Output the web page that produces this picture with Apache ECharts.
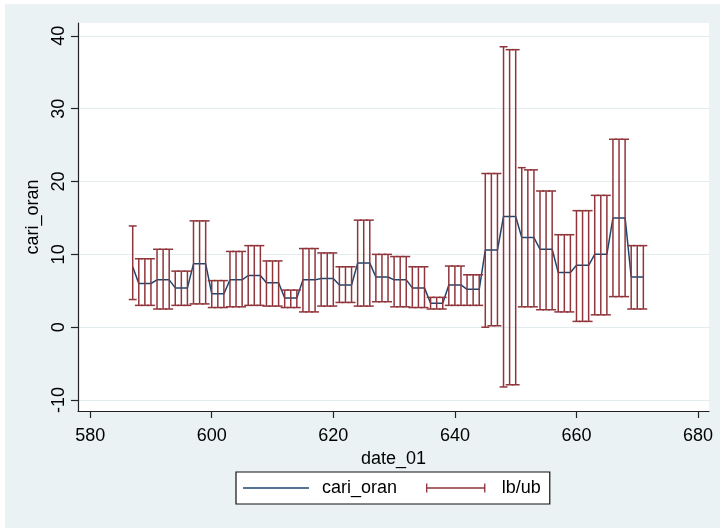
<!DOCTYPE html>
<html>
<head>
<meta charset="utf-8">
<script src="https://cdn.jsdelivr.net/npm/echarts@6/dist/echarts.min.js"></script>
<style>
  html, body { margin: 0; padding: 0; background: #ffffff; }
  #main { position: absolute; left: 5px; top: 4px; width: 715px; height: 524px; }
</style>
</head>
<body>
<div id="main"></div>
<script>
// Monthly date index (Stata %tm) and the estimate with its confidence bounds
const months = [
  587,588,589,590,591,592,593,594,595,596,597,598,599,600,601,602,603,604,605,606,
  607,608,609,610,611,612,613,614,615,616,617,618,619,620,621,622,623,624,625,626,
  627,628,629,630,631,632,633,634,635,636,637,638,639,640,641,642,643,644,645,646,
  647,648,649,650,651,652,653,654,655,656,657,658,659,660,661,662,663,664,665,666,
  667,668,669,670,671
];
const cariOran = [
  8.3, 6.0,6.0,6.0, 6.5,6.5,6.5, 5.4,5.4,5.4, 8.7,8.7,8.7, 4.6,4.6,4.6,
  6.5,6.5,6.5, 7.1,7.1,7.1, 6.1,6.1,6.1, 4.0,4.0,4.0, 6.5,6.5,6.5,
  6.7,6.7,6.7, 5.8,5.8,5.8, 8.8,8.8,8.8, 6.9,6.9,6.9, 6.5,6.5,6.5,
  5.4,5.4,5.4, 3.3,3.3,3.3, 5.8,5.8,5.8, 5.2,5.2,5.2, 10.6,10.6,10.6,
  15.2,15.2,15.2, 12.3,12.3,12.3, 10.7,10.7,10.7, 7.5,7.5,7.5,
  8.5,8.5,8.5, 10.0,10.0,10.0, 15.0,15.0,15.0, 6.9,6.9,6.9
];
const lowerBound = [
  3.8, 3.0,3.0,3.0, 2.5,2.5,2.5, 3.0,3.0,3.0, 3.2,3.2,3.2, 2.7,2.7,2.7,
  2.8,2.8,2.8, 3.0,3.0,3.0, 2.9,2.9,2.9, 2.7,2.7,2.7, 2.1,2.1,2.1,
  2.9,2.9,2.9, 3.4,3.4,3.4, 2.9,2.9,2.9, 3.5,3.5,3.5, 2.8,2.8,2.8,
  2.7,2.7,2.7, 2.5,2.5,2.5, 3.0,3.0,3.0, 3.0,3.0,3.0, 0.0,0.2,0.2,
  -8.2,-7.9,-7.9, 2.8,2.8,2.8, 2.4,2.4,2.4, 2.1,2.1,2.1,
  0.8,0.8,0.8, 1.7,1.7,1.7, 4.2,4.2,4.2, 2.5,2.5,2.5
];
const upperBound = [
  13.9, 9.4,9.4,9.4, 10.7,10.7,10.7, 7.7,7.7,7.7, 14.6,14.6,14.6, 6.4,6.4,6.4,
  10.4,10.4,10.4, 11.2,11.2,11.2, 9.1,9.1,9.1, 5.1,5.1,5.1, 10.8,10.8,10.8,
  10.2,10.2,10.2, 8.3,8.3,8.3, 14.7,14.7,14.7, 10.0,10.0,10.0, 9.7,9.7,9.7,
  8.3,8.3,8.3, 4.1,4.1,4.1, 8.4,8.4,8.4, 7.2,7.2,7.2, 21.1,21.1,21.1,
  38.5,38.1,38.1, 21.9,21.6,21.6, 18.7,18.7,18.7, 12.7,12.7,12.7,
  16.0,16.0,16.0, 18.1,18.1,18.1, 25.8,25.8,25.8, 11.2,11.2,11.2
];
const xTicks = [580, 600, 620, 640, 660, 680];
const yTicks = [-10, 0, 10, 20, 30, 40];

const NAVY = '#1A476F';
const MAROON = '#90353B';
const FONT = '"Liberation Sans", Arial, sans-serif';

const lineData = months.map((m, i) => [m, cariOran[i]]);
const capData = months.map((m, i) => [m, lowerBound[i], upperBound[i]]);

const chart = echarts.init(document.getElementById('main'), null, { renderer: 'canvas' });

chart.setOption({
  backgroundColor: '#EAF2F3',
  animation: false,
  textStyle: { fontFamily: FONT, color: '#000' },
  grid: {
    left: 73, top: 19, right: 11, bottom: 117,
    show: true, backgroundColor: '#ffffff', borderWidth: 0
  },
  xAxis: {
    type: 'value', min: 578, max: 681.8,
    name: 'date_01', nameLocation: 'middle', nameGap: 28,
    nameTextStyle: { fontSize: 18, color: '#000', fontFamily: FONT },
    axisLine: { show: true, onZero: false, lineStyle: { color: '#222', width: 1.2 } },
    axisTick: { show: true, length: 7, customValues: xTicks, lineStyle: { color: '#222', width: 1.2 } },
    axisLabel: { customValues: xTicks, fontSize: 18, color: '#000', margin: 16, fontFamily: FONT },
    splitLine: { show: false }
  },
  yAxis: {
    type: 'value', min: -11.5, max: 41.76,
    name: 'cari_oran', nameLocation: 'middle', nameGap: 25,
    nameTextStyle: { fontSize: 18, color: '#000', fontFamily: FONT },
    axisLine: { show: true, onZero: false, lineStyle: { color: '#222', width: 1.2 } },
    axisTick: { show: true, length: 7, customValues: yTicks, lineStyle: { color: '#222', width: 1.2 } },
    axisLabel: { customValues: yTicks, rotate: 90, fontSize: 18, color: '#000', margin: 10, fontFamily: FONT },
    splitLine: { show: true, lineStyle: { color: '#E3ECEF', width: 1.2 } }
  },
  legend: {
    left: 231, top: 468,
    orient: 'horizontal',
    backgroundColor: '#ffffff', borderColor: '#111', borderWidth: 1.2, borderRadius: 0,
    padding: [7, 9, 7, 7],
    itemGap: 29, itemWidth: 66, itemHeight: 9,
    selectedMode: false,
    textStyle: { fontSize: 18, color: '#000', fontFamily: FONT, padding: [0, 0, 0, 8] },
    data: [
      { name: 'cari_oran', icon: 'path://M0,0H66V1.6H0Z', itemStyle: { color: NAVY } },
      { name: 'lb/ub', icon: 'path://M0,0H1.5V10H0Z M64.5,0H66V10H64.5Z M0,4.3H66V5.7H0Z', itemStyle: { color: MAROON } }
    ]
  },
  series: [
    {
      name: 'cari_oran',
      type: 'line',
      data: lineData,
      symbol: 'none',
      z: 2,
      lineStyle: { color: NAVY, width: 1.5 },
      itemStyle: { color: NAVY }
    },
    {
      name: 'lb/ub',
      type: 'custom',
      data: capData,
      z: 3,
      itemStyle: { color: MAROON },
      encode: { x: 0, y: [1, 2] },
      renderItem: function (params, api) {
        const x = api.value(0);
        const lo = api.coord([x, api.value(1)]);
        const hi = api.coord([x, api.value(2)]);
        const hw = api.size([1, 0])[0] * 0.65;
        const style = { stroke: MAROON, lineWidth: 1.5, fill: null };
        return {
          type: 'group',
          children: [
            { type: 'line', shape: { x1: lo[0], y1: lo[1], x2: hi[0], y2: hi[1] }, style: style },
            { type: 'line', shape: { x1: lo[0] - hw, y1: lo[1], x2: lo[0] + hw, y2: lo[1] }, style: style },
            { type: 'line', shape: { x1: hi[0] - hw, y1: hi[1], x2: hi[0] + hw, y2: hi[1] }, style: style }
          ]
        };
      }
    }
  ]
});
</script>
</body>
</html>
